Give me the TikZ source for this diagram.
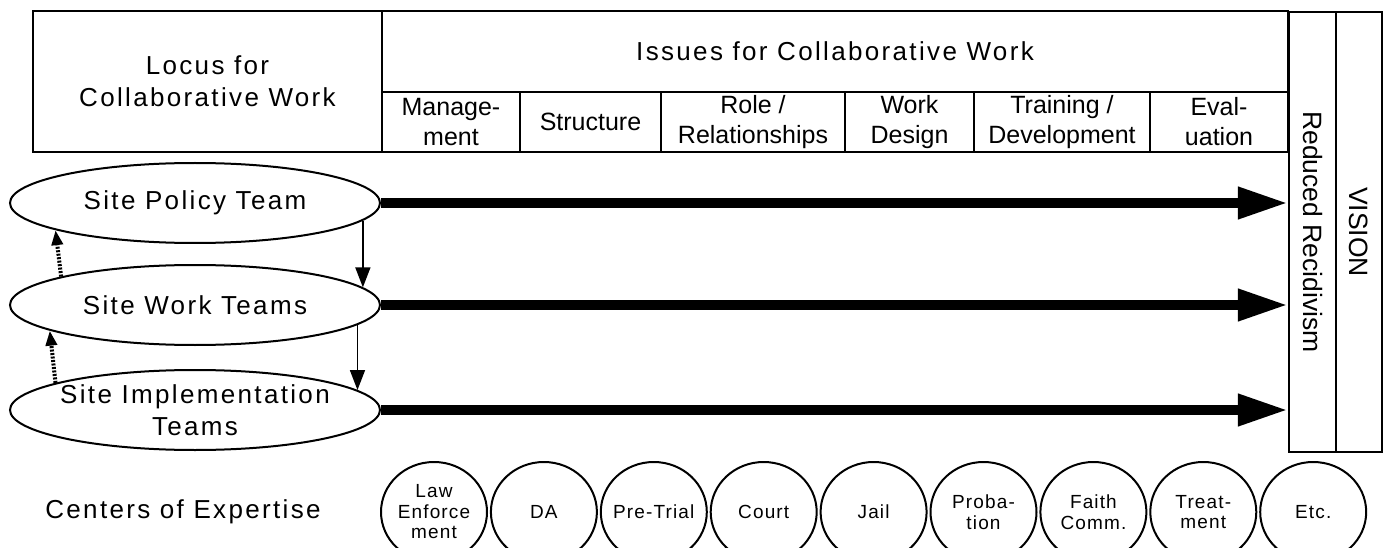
\documentclass[tikz,border=0pt]{standalone}
\usepackage{fontspec}
\setmainfont{Liberation Sans}
\newfontfamily\spaced{Liberation Sans}[LetterSpace=9]
\newfontfamily\smallspaced{Liberation Sans}[LetterSpace=6]
\usetikzlibrary{arrows.meta,shapes.geometric}

\begin{document}
\begin{tikzpicture}[x=1pt,y=-1pt,
    cell/.style={draw, line width=2.2pt, inner sep=0pt, align=center, font=\spaced\fontsize{26}{32}\selectfont},
    subcell/.style={cell, font=\fontsize{25}{30}\selectfont},
    upright/.style={draw=none, rotate=-90, inner sep=0pt, font=\fontsize{26.5}{30}\selectfont},
    team/.style={ellipse, draw, line width=2pt, minimum width=370pt, minimum height=80pt, inner sep=-40pt, align=center, font=\spaced\fontsize{26}{32}\selectfont},
    expert/.style={ellipse, draw, line width=2pt, minimum width=106pt, minimum height=100pt, inner sep=-10pt, align=center, font=\smallspaced\fontsize{19}{20.5}\selectfont},
    flow/.style={line width=10pt, -{Triangle[length=50pt,width=30pt]}},
    down/.style={line width=1.6pt, -{Triangle[length=20pt,width=15pt]}},
    up/.style={line width=4pt, dash pattern=on 2pt off 1.5pt, -{Triangle[length=15pt,width=11pt]}}]
    \useasboundingbox (0,0) rectangle (1387,548);
    % header table
    \node[cell, minimum width=349pt, minimum height=141pt] (locus) at (207.5,81.5) {Locus for\\Collaborative Work};
    \node[cell, minimum width=906pt, minimum height=81pt] (issues) at (835,51.5) {Issues for Collaborative Work};
    \foreach \l/\r/\t [count=\i] in {382/520/{Manage-\\ment}, 520/661/Structure, 661/845/{Role /\\Relationships},
                                      845/974/{Work\\Design}, 974/1150/{Training /\\Development}, 1150/1288/{Eval-\\uation}}
        \node[subcell, minimum width={(\r-\l)*1pt}, minimum height=60pt] (issue\i) at ({(\l+\r)/2},122) {\t};
    % outcome columns
    \node[cell, minimum width=47pt, minimum height=440pt] (rr) at (1312.5,232) {};
    \node[upright] (rrtext) at (rr.center) {Reduced Recidivism};
    \node[cell, minimum width=46pt, minimum height=440pt] (vision) at (1359,232) {};
    \node[upright] (visiontext) at (vision.center) {VISION};
    % teams
    \node[team] (spt) at (195,203) {Site Policy Team};
    \node[team] (swt) at (195,305) {Site Work Teams};
    \node[team] (sit) at (195,410) {Site Implementation\\Teams};
    \foreach \n in {spt,swt,sit}
        \draw[flow] (\n.east) -- (\n.east -| rr.west);
    \draw[down] (spt.-6.2) -- (swt.6.2);
    \draw[down] (swt.-7.3) -- (sit.7.3);
    \draw[up] (swt.168.9) -- (spt.191.1);
    \draw[up] (sit.169.4) -- (swt.190.6);
    % centers of expertise
    \node[font=\spaced\fontsize{26}{30}\selectfont] (coe) at (183,512) {Centers of Expertise};
    \foreach \t [count=\i] in {{Law\\Enforce\\ment}, DA, Pre-Trial, Court, Jail, {Proba-\\tion}, {Faith\\Comm.}, {Treat-\\ment}, Etc.}
        \node[expert] (ce\i) at ({434+109.9*(\i-1)},512) {\t};
\end{tikzpicture}
\end{document}
